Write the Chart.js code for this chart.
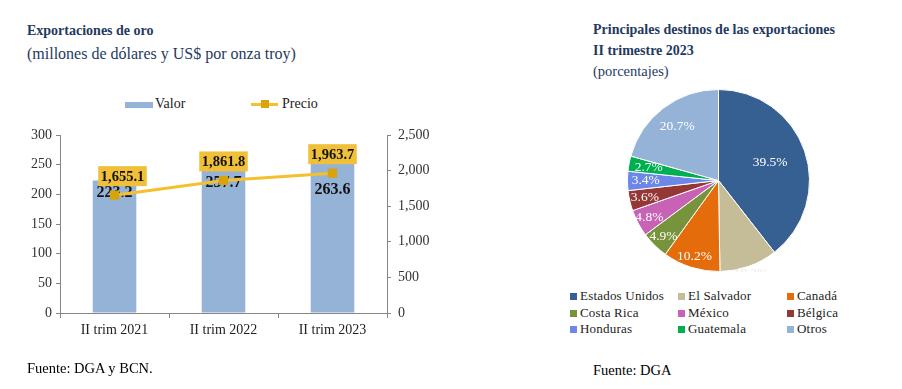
<!DOCTYPE html>
<html>
<head>
<meta charset="utf-8">
<script src="https://cdn.jsdelivr.net/npm/chart.js@4/dist/chart.umd.min.js"></script>
<style>
  body { margin: 0; width: 902px; height: 389px; background: #fff; position: relative; overflow: hidden; }
  .abs { position: absolute; white-space: nowrap; font-family: "Liberation Serif", "DejaVu Serif", serif; }
  .ttl { color: #1F3A5F; font-size: 14px; font-weight: bold; }
  .sub { color: #1F3A5F; font-size: 16px; }
  .src { color: #000; font-size: 14.5px; }
  .leg { font-size: 14px; color: #222; }
  .pleg { font-size: 13px; color: #222; letter-spacing: 0.2px; }
  .sw { position: absolute; width: 7px; height: 7px; }
  canvas { position: absolute; }
</style>
</head>
<body>
<!-- grafico izquierdo -->
<div class="abs ttl" style="left:27px; top:23px;">Exportaciones de oro</div>
<div class="abs sub" style="left:27px; top:45px;">(millones de dólares y US$ por onza troy)</div>
<div class="abs" style="left:125px; top:102px; width:28px; height:6px; background:#95B3D7;"></div>
<div class="abs leg" style="left:155px; top:96px;">Valor</div>
<div class="abs" style="left:251px; top:103px; width:27px; height:3px; background:#F5C02E;"></div>
<div class="abs" style="left:261px; top:100px; width:8px; height:8px; background:#D9A30C;"></div>
<div class="abs leg" style="left:282px; top:96px;">Precio</div>
<canvas id="barras" width="450" height="389" style="left:0; top:0;"></canvas>
<div class="abs src" style="left:27px; top:360px;">Fuente: DGA y BCN.</div>

<!-- grafico derecho -->
<div class="abs ttl" style="left:593px; top:22px;">Principales destinos de las exportaciones</div>
<div class="abs ttl" style="left:593px; top:43px;">II trimestre 2023</div>
<div class="abs sub" style="left:593px; top:63px; font-size:14.5px;">(porcentajes)</div>
<canvas id="torta" width="241" height="183" style="left:598px; top:89px;"></canvas>
<div id="leyenda"></div>
<div class="abs src" style="left:593px; top:362px;">Fuente: DGA</div>

<script>
// datos grafico de barras
const trimestres = ['II trim 2021', 'II trim 2022', 'II trim 2023'];
const valor = [223.2, 257.7, 263.6];     // millones de US$
const precio = [1655.1, 1861.8, 1963.7]; // US$ por onza troy

// datos grafico de torta
const destinos = ['Estados Unidos', 'El Salvador', 'Canadá', 'Costa Rica', 'México', 'Bélgica', 'Honduras', 'Guatemala', 'Otros'];
const participacion = [39.5, 10.3, 10.2, 4.9, 4.8, 3.6, 3.4, 2.7, 20.7];

// estilos
const coloresTorta = ['#376092', '#C4BD97', '#E46C0A', '#77933C', '#C862B4', '#953735', '#6D87E8', '#00B050', '#95B3D7'];
const radioEtiqueta = [0.6, 1.08, 0.88, 0.86, 0.86, 0.83, 0.8, 0.78, 0.75];
const colorEtiqueta = ['#fff', '#E8E8E8', '#fff', '#fff', '#fff', '#fff', '#fff', '#fff', '#fff'];
const desplazaBarra = [12, 23, 33];
const fuente = '"Liberation Serif", "DejaVu Serif", serif';
const fmt = v => v.toLocaleString('en-US', { minimumFractionDigits: 1, maximumFractionDigits: 1 });

// etiquetas del grafico de barras
const etiquetasBarras = {
    id: 'etiquetasBarras',
    afterDatasetDraw(chart, args) {
        if (args.index !== 0) return;
        const ctx = chart.ctx;
        ctx.save();
        ctx.font = 'bold 16px ' + fuente;
        ctx.fillStyle = '#111';
        ctx.textAlign = 'center';
        ctx.textBaseline = 'middle';
        args.meta.data.forEach((bar, i) => {
            ctx.fillText(fmt(valor[i]), bar.x, bar.y + desplazaBarra[i]);
        });
        ctx.restore();
    },
    afterDatasetsDraw(chart) {
        const ctx = chart.ctx;
        const meta = chart.getDatasetMeta(1);
        ctx.save();
        ctx.font = 'bold 14.5px ' + fuente;
        ctx.textAlign = 'center';
        ctx.textBaseline = 'middle';
        meta.data.forEach((pt, i) => {
            const txt = fmt(precio[i]);
            const w = ctx.measureText(txt).width + 5;
            const cx = pt.x + (i === 0 ? 8 : 0);
            const cy = pt.y - 19;
            ctx.fillStyle = '#F0C038';
            ctx.fillRect(cx - w / 2, cy - 10, w, 20);
            ctx.fillStyle = '#111';
            ctx.fillText(txt, cx, cy + 1);
        });
        ctx.restore();
    }
};

new Chart(document.getElementById('barras').getContext('2d'), {
    type: 'bar',
    data: {
        labels: trimestres,
        datasets: [
            {
                type: 'bar',
                label: 'Valor',
                data: valor,
                backgroundColor: '#95B3D7',
                yAxisID: 'y',
                categoryPercentage: 1,
                barPercentage: 0.4,
                order: 1
            },
            {
                type: 'line',
                label: 'Precio',
                data: precio,
                borderColor: '#F5C02E',
                borderWidth: 3,
                pointStyle: 'rect',
                pointRadius: 4.5,
                pointBackgroundColor: '#D9A30C',
                pointBorderColor: '#D9A30C',
                yAxisID: 'y1',
                order: 0
            }
        ]
    },
    options: {
        responsive: false,
        animation: false,
        layout: { padding: { top: 135, left: 0, right: 0, bottom: 0 } },
        plugins: { legend: { display: false }, tooltip: { enabled: false } },
        scales: {
            x: {
                grid: { drawOnChartArea: false, color: '#868686', tickLength: 5 },
                border: { color: '#868686' },
                ticks: { color: '#222', font: { family: fuente, size: 14 }, padding: 4 },
                afterFit: s => { s.height = 76; }
            },
            y: {
                position: 'left',
                min: 0, max: 300,
                ticks: { stepSize: 50, color: '#333', font: { family: fuente, size: 14 }, padding: 4 },
                grid: { drawOnChartArea: false, color: '#868686', tickLength: 4 },
                border: { color: '#868686' },
                afterFit: s => { s.width = 60; }
            },
            y1: {
                position: 'right',
                min: 0, max: 2500,
                ticks: {
                    stepSize: 500, color: '#333', font: { family: fuente, size: 14 }, padding: 7,
                    callback: v => v.toLocaleString('en-US')
                },
                grid: { drawOnChartArea: false, color: '#868686', tickLength: 4 },
                border: { color: '#868686' },
                afterFit: s => { s.width = 63; }
            }
        }
    },
    plugins: [etiquetasBarras]
});

// etiquetas de la torta
const etiquetasTorta = {
    id: 'etiquetasTorta',
    afterDatasetsDraw(chart) {
        const ctx = chart.ctx;
        const meta = chart.getDatasetMeta(0);
        ctx.save();
        ctx.font = '13.5px ' + fuente;
        ctx.textAlign = 'center';
        ctx.textBaseline = 'middle';
        meta.data.forEach((arc, i) => {
            const p = arc.getProps(['x', 'y', 'startAngle', 'endAngle', 'outerRadius'], true);
            const a = (p.startAngle + p.endAngle) / 2;
            const r = p.outerRadius * radioEtiqueta[i];
            ctx.fillStyle = colorEtiqueta[i];
            ctx.fillText(participacion[i].toFixed(1) + '%', p.x + Math.cos(a) * r, p.y + Math.sin(a) * r);
        });
        ctx.restore();
    }
};

new Chart(document.getElementById('torta').getContext('2d'), {
    type: 'pie',
    data: {
        labels: destinos,
        datasets: [{
            data: participacion,
            backgroundColor: coloresTorta,
            borderColor: '#fff',
            borderWidth: 1
        }]
    },
    options: {
        responsive: false,
        animation: false,
        layout: { padding: 0 },
        plugins: { legend: { display: false }, tooltip: { enabled: false } }
    },
    plugins: [etiquetasTorta]
});

// leyenda de la torta en tres columnas
const colX = [570, 678, 787];
const leyenda = document.getElementById('leyenda');
destinos.forEach((d, i) => {
    const x = colX[i % 3];
    const y = 293 + Math.floor(i / 3) * 16.5;
    const sw = document.createElement('div');
    sw.className = 'sw';
    sw.style.left = x + 'px';
    sw.style.top = y + 'px';
    sw.style.background = coloresTorta[i];
    const tx = document.createElement('div');
    tx.className = 'abs pleg';
    tx.style.left = (x + 10) + 'px';
    tx.style.top = (y - 5) + 'px';
    tx.textContent = d;
    leyenda.appendChild(sw);
    leyenda.appendChild(tx);
});
</script>
</body>
</html>
